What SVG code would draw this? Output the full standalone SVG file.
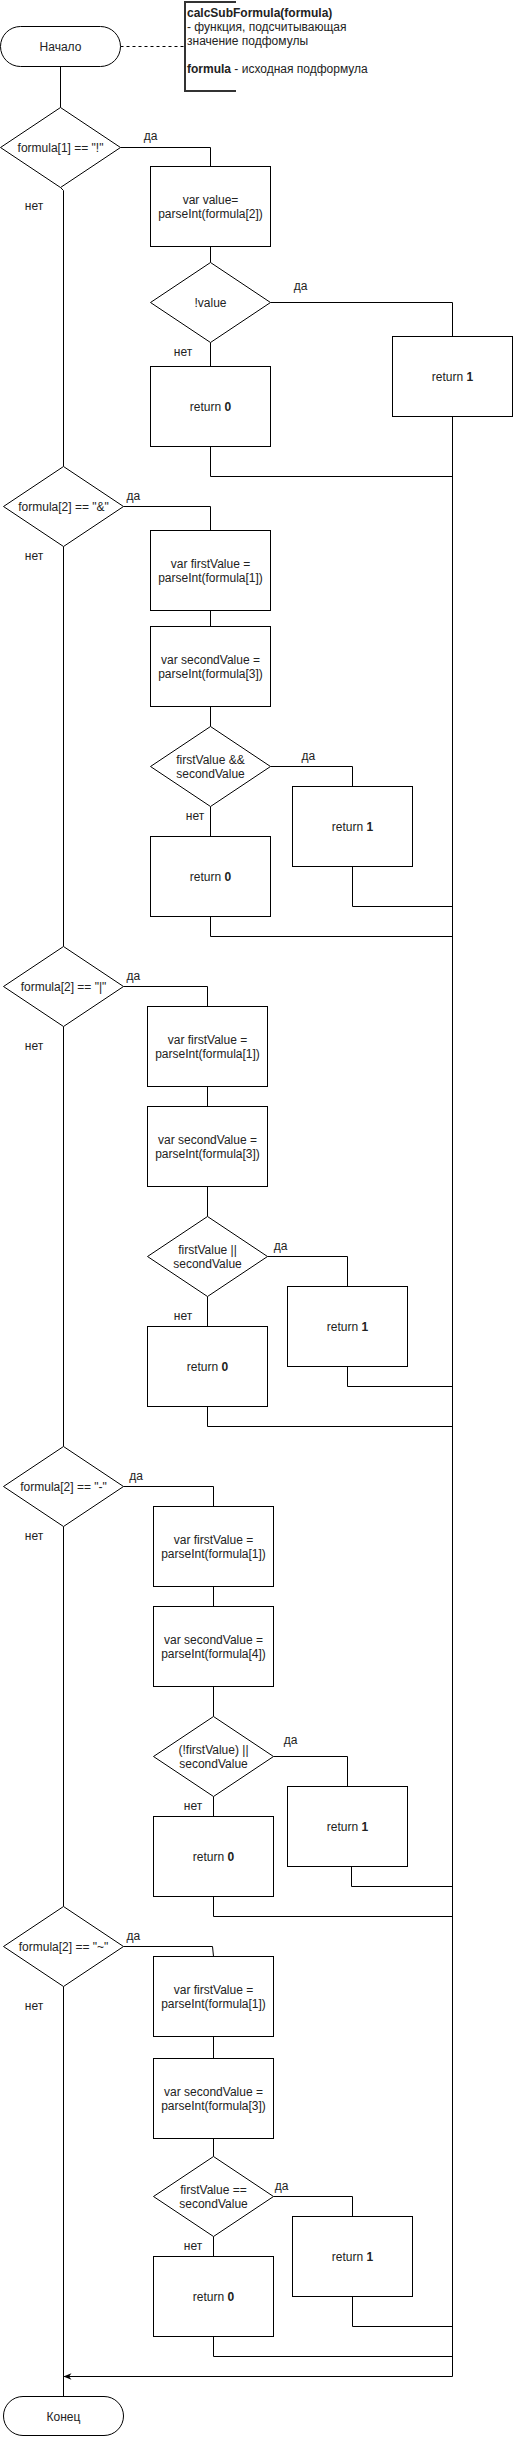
<svg xmlns="http://www.w3.org/2000/svg" width="513" height="2437" viewBox="0 0 513 2437">
<style>
.n{fill:#fff;stroke:#000;stroke-width:1}
.c{fill:none;stroke:#000;stroke-width:1}
.t{font-family:"Liberation Sans",Arial,sans-serif;font-size:12px;fill:#222;text-anchor:middle}
.a{font-family:"Liberation Sans",Arial,sans-serif;font-size:12px;fill:#222}
.b{font-weight:bold}
</style>
<defs>
<marker id="arr" viewBox="0 0 10 10" refX="10" refY="5" markerWidth="8" markerHeight="8" orient="auto" markerUnits="userSpaceOnUse">
<path d="M0,1 L10,5 L0,9 L3,5 Z" fill="#000"/>
</marker>
</defs>
<rect width="513" height="2437" fill="#fff"/>

<g id="connectors">
<path class="c" d="M120.5,46.5 H185" stroke-dasharray="3,3"/>
<path class="c" d="M60.5,66.5 V107.5"/>
<path class="c" d="M60.5,187.5 L63.5,190.5 V466.5"/>
<path class="c" d="M120.5,147.5 H210.5 V166.5"/>
<path class="c" d="M210.5,246.5 V262.5"/>
<path class="c" d="M270.5,302.5 H452.5 V336.5"/>
<path class="c" d="M210.5,342.5 V366.5"/>
<path class="c" d="M210.5,446.5 V476.5 H452.5"/>
<path class="c" d="M452.5,416.5 V2376.5 H63.5" marker-end="url(#arr)"/>

<path class="c" d="M123.5,506.5 H210.5 V530.5"/>
<path class="c" d="M210.5,610.5 V626.5"/>
<path class="c" d="M210.5,706.5 V726.5"/>
<path class="c" d="M270.5,766.5 H352.5 V786.5"/>
<path class="c" d="M352.5,866.5 V906.5 H452.5"/>
<path class="c" d="M210.5,806.5 V836.5"/>
<path class="c" d="M210.5,916.5 V936.5 H452.5"/>
<path class="c" d="M63.5,546.5 V946.5"/>

<path class="c" d="M123.5,986.5 H207.5 V1006.5"/>
<path class="c" d="M207.5,1086.5 V1106.5"/>
<path class="c" d="M207.5,1186.5 V1216.5"/>
<path class="c" d="M267.5,1256.5 H347.5 V1286.5"/>
<path class="c" d="M347.5,1366.5 V1386.5 H452.5"/>
<path class="c" d="M207.5,1296.5 V1326.5"/>
<path class="c" d="M207.5,1406.5 V1426.5 H452.5"/>
<path class="c" d="M63.5,1026.5 V1446.5"/>

<path class="c" d="M123.5,1486.5 H213.5 V1506.5"/>
<path class="c" d="M213.5,1586.5 V1606.5"/>
<path class="c" d="M213.5,1686.5 V1716.5"/>
<path class="c" d="M273.5,1756.5 H347.5 V1786.5"/>
<path class="c" d="M351.5,1866.5 V1886.5 H452.5"/>
<path class="c" d="M213.5,1796.5 V1816.5"/>
<path class="c" d="M213.5,1896.5 V1916.5 H452.5"/>
<path class="c" d="M63.5,1526.5 V1906.5"/>

<path class="c" d="M123.5,1946.5 H212.5 L213.5,1956.5"/>
<path class="c" d="M213.5,2036.5 V2058.5"/>
<path class="c" d="M213.5,2138.5 V2156.5"/>
<path class="c" d="M273.5,2196.5 H352.5 V2216.5"/>
<path class="c" d="M352.5,2296.5 V2326.5 H452.5"/>
<path class="c" d="M213.5,2236.5 V2256.5"/>
<path class="c" d="M213.5,2336.5 V2356.5 H452.5"/>
<path class="c" d="M63.5,1986.5 V2396.5"/>

<text class="t" x="150.7" y="140">да</text>
<text class="t" x="300.7" y="289.7">да</text>
<text class="t" x="183" y="355.7">нет</text>
<text class="t" x="34" y="209.7">нет</text>
<text class="t" x="133.3" y="499.8">да</text>
<text class="t" x="308.3" y="759.7">да</text>
<text class="t" x="34" y="560">нет</text>
<text class="t" x="195" y="820">нет</text>
<text class="t" x="133.3" y="979.8">да</text>
<text class="t" x="280.7" y="1250.1">да</text>
<text class="t" x="34" y="1049.7">нет</text>
<text class="t" x="183" y="1320">нет</text>
<text class="t" x="136" y="1479.8">да</text>
<text class="t" x="290.7" y="1743.9">да</text>
<text class="t" x="34" y="1539.7">нет</text>
<text class="t" x="193" y="1809.7">нет</text>
<text class="t" x="133.3" y="1939.9">да</text>
<text class="t" x="281.7" y="2190.3">да</text>
<text class="t" x="34" y="2009.7">нет</text>
<text class="t" x="193" y="2249.7">нет</text>
</g>

<g id="start">
<rect class="n" x="0.5" y="26.5" width="120" height="40" rx="20"/>
<text class="t" x="60.5" y="50.7">Начало</text>
</g>

<g id="note">
<path d="M236,2 H185 V91 H236" fill="none" stroke="#333" stroke-width="2"/>
<text class="a" x="187" y="16.5"><tspan class="b">calcSubFormula(formula)</tspan></text>
<text class="a" x="187" y="30.5">- функция, подсчитывающая</text>
<text class="a" x="187" y="44.5">значение подфомулы</text>
<text class="a" x="187" y="72.5"><tspan class="b">formula</tspan> - исходная подформула</text>
</g>

<g id="d1">
<polygon class="n" points="60.5,107.5 120.5,147.5 60.5,187.5 0.5,147.5"/>
<text class="t" x="60.5" y="151.5">formula[1] == "!"</text>
</g>
<g id="b1">
<rect class="n" x="150.5" y="166.5" width="120" height="80"/>
<text class="t" x="210.5" y="203.5">var value=</text>
<text class="t" x="210.5" y="217.5">parseInt(formula[2])</text>
</g>
<g id="d1b">
<polygon class="n" points="210.5,262.5 270.5,302.5 210.5,342.5 150.5,302.5"/>
<text class="t" x="210.5" y="306.5">!value</text>
</g>
<g id="r1a">
<rect class="n" x="392.5" y="336.5" width="120" height="80"/>
<text class="t" x="452.5" y="380.5">return <tspan class="b">1</tspan></text>
</g>
<g id="r0a">
<rect class="n" x="150.5" y="366.5" width="120" height="80"/>
<text class="t" x="210.5" y="410.5">return <tspan class="b">0</tspan></text>
</g>

<g id="d2">
<polygon class="n" points="63.5,466.5 123.5,506.5 63.5,546.5 3.5,506.5"/>
<text class="t" x="63.5" y="510.5">formula[2] == "&amp;"</text>
</g>
<g id="b2a">
<rect class="n" x="150.5" y="530.5" width="120" height="80"/>
<text class="t" x="210.5" y="567.5">var firstValue =</text>
<text class="t" x="210.5" y="581.5">parseInt(formula[1])</text>
</g>
<g id="b2b">
<rect class="n" x="150.5" y="626.5" width="120" height="80"/>
<text class="t" x="210.5" y="663.5">var secondValue =</text>
<text class="t" x="210.5" y="677.5">parseInt(formula[3])</text>
</g>
<g id="d2b">
<polygon class="n" points="210.5,726.5 270.5,766.5 210.5,806.5 150.5,766.5"/>
<text class="t" x="210.5" y="763.5">firstValue &amp;&amp;</text>
<text class="t" x="210.5" y="777.5">secondValue</text>
</g>
<g id="r1b">
<rect class="n" x="292.5" y="786.5" width="120" height="80"/>
<text class="t" x="352.5" y="830.5">return <tspan class="b">1</tspan></text>
</g>
<g id="r0b">
<rect class="n" x="150.5" y="836.5" width="120" height="80"/>
<text class="t" x="210.5" y="880.5">return <tspan class="b">0</tspan></text>
</g>

<g id="d3">
<polygon class="n" points="63.5,946.5 123.5,986.5 63.5,1026.5 3.5,986.5"/>
<text class="t" x="63.5" y="990.5">formula[2] == "|"</text>
</g>
<g id="b3a">
<rect class="n" x="147.5" y="1006.5" width="120" height="80"/>
<text class="t" x="207.5" y="1043.5">var firstValue =</text>
<text class="t" x="207.5" y="1057.5">parseInt(formula[1])</text>
</g>
<g id="b3b">
<rect class="n" x="147.5" y="1106.5" width="120" height="80"/>
<text class="t" x="207.5" y="1143.5">var secondValue =</text>
<text class="t" x="207.5" y="1157.5">parseInt(formula[3])</text>
</g>
<g id="d3b">
<polygon class="n" points="207.5,1216.5 267.5,1256.5 207.5,1296.5 147.5,1256.5"/>
<text class="t" x="207.5" y="1253.5">firstValue ||</text>
<text class="t" x="207.5" y="1267.5">secondValue</text>
</g>
<g id="r1c">
<rect class="n" x="287.5" y="1286.5" width="120" height="80"/>
<text class="t" x="347.5" y="1330.5">return <tspan class="b">1</tspan></text>
</g>
<g id="r0c">
<rect class="n" x="147.5" y="1326.5" width="120" height="80"/>
<text class="t" x="207.5" y="1370.5">return <tspan class="b">0</tspan></text>
</g>

<g id="d4">
<polygon class="n" points="63.5,1446.5 123.5,1486.5 63.5,1526.5 3.5,1486.5"/>
<text class="t" x="63.5" y="1490.5">formula[2] == "-"</text>
</g>
<g id="b4a">
<rect class="n" x="153.5" y="1506.5" width="120" height="80"/>
<text class="t" x="213.5" y="1543.5">var firstValue =</text>
<text class="t" x="213.5" y="1557.5">parseInt(formula[1])</text>
</g>
<g id="b4b">
<rect class="n" x="153.5" y="1606.5" width="120" height="80"/>
<text class="t" x="213.5" y="1643.5">var secondValue =</text>
<text class="t" x="213.5" y="1657.5">parseInt(formula[4])</text>
</g>
<g id="d4b">
<polygon class="n" points="213.5,1716.5 273.5,1756.5 213.5,1796.5 153.5,1756.5"/>
<text class="t" x="213.5" y="1753.5">(!firstValue) ||</text>
<text class="t" x="213.5" y="1767.5">secondValue</text>
</g>
<g id="r1d">
<rect class="n" x="287.5" y="1786.5" width="120" height="80"/>
<text class="t" x="347.5" y="1830.5">return <tspan class="b">1</tspan></text>
</g>
<g id="r0d">
<rect class="n" x="153.5" y="1816.5" width="120" height="80"/>
<text class="t" x="213.5" y="1860.5">return <tspan class="b">0</tspan></text>
</g>

<g id="d5">
<polygon class="n" points="63.5,1906.5 123.5,1946.5 63.5,1986.5 3.5,1946.5"/>
<text class="t" x="63.5" y="1950.5">formula[2] == "~"</text>
</g>
<g id="b5a">
<rect class="n" x="153.5" y="1956.5" width="120" height="80"/>
<text class="t" x="213.5" y="1993.5">var firstValue =</text>
<text class="t" x="213.5" y="2007.5">parseInt(formula[1])</text>
</g>
<g id="b5b">
<rect class="n" x="153.5" y="2058.5" width="120" height="80"/>
<text class="t" x="213.5" y="2095.5">var secondValue =</text>
<text class="t" x="213.5" y="2109.5">parseInt(formula[3])</text>
</g>
<g id="d5b">
<polygon class="n" points="213.5,2156.5 273.5,2196.5 213.5,2236.5 153.5,2196.5"/>
<text class="t" x="213.5" y="2193.5">firstValue ==</text>
<text class="t" x="213.5" y="2207.5">secondValue</text>
</g>
<g id="r1e">
<rect class="n" x="292.5" y="2216.5" width="120" height="80"/>
<text class="t" x="352.5" y="2260.5">return <tspan class="b">1</tspan></text>
</g>
<g id="r0e">
<rect class="n" x="153.5" y="2256.5" width="120" height="80"/>
<text class="t" x="213.5" y="2300.5">return <tspan class="b">0</tspan></text>
</g>

<g id="end">
<rect class="n" x="3.5" y="2396.5" width="120" height="39" rx="19.5"/>
<text class="t" x="63.5" y="2420.5">Конец</text>
</g>
</svg>
